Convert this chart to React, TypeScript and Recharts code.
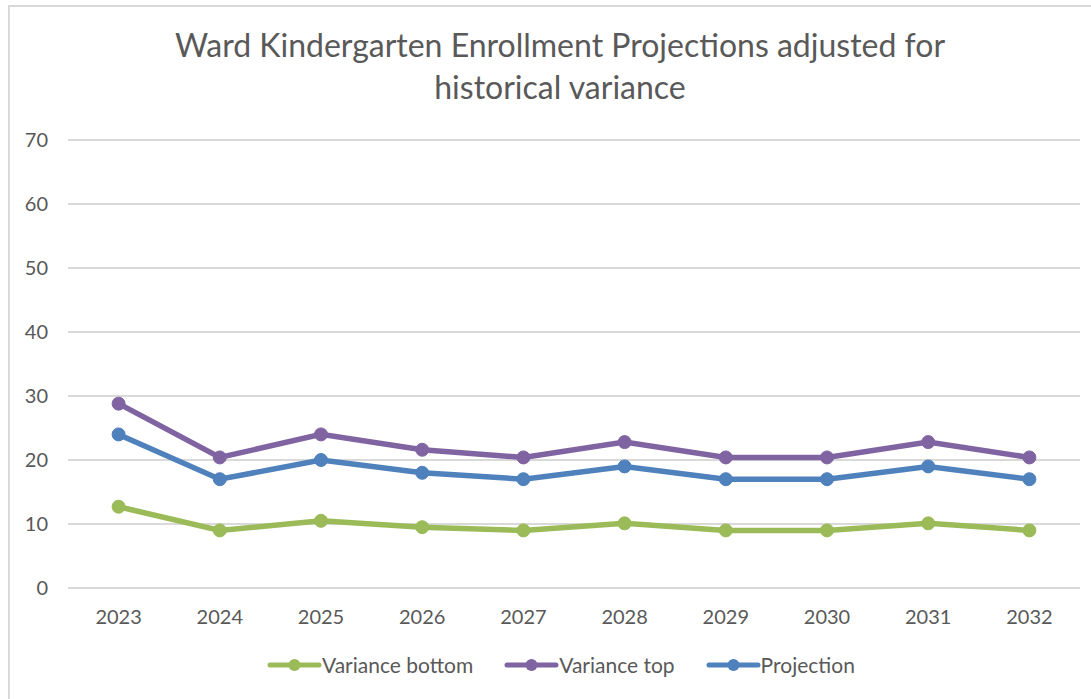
import React from "react";
import { LineChart, Line, XAxis, YAxis, CartesianGrid } from "recharts";

const years = ["2023", "2024", "2025", "2026", "2027", "2028", "2029", "2030", "2031", "2032"];
const varianceBottom = [12.7, 9.0, 10.5, 9.5, 9.0, 10.1, 9.0, 9.0, 10.1, 9.0];
const varianceTop = [28.8, 20.4, 24.0, 21.6, 20.4, 22.8, 20.4, 20.4, 22.8, 20.4];
const projection = [24, 17, 20, 18, 17, 19, 17, 17, 19, 17];
const yTicks = [0, 10, 20, 30, 40, 50, 60, 70];

const seriesList = [
  { key: "bottom", name: "Variance bottom", color: "#9bbb59" },
  { key: "top", name: "Variance top", color: "#8064a2" },
  { key: "projection", name: "Projection", color: "#4f81bd" },
];

const data = years.map((year, i) => ({
  year,
  bottom: varianceBottom[i],
  top: varianceTop[i],
  projection: projection[i],
}));

const FONT = "Lato, 'Open Sans', sans-serif";
const TEXT = "#595959";

function LegendMarker({ color }: { color: string }) {
  return (
    <svg width={55} height={14} style={{ display: "block" }}>
      <line x1={3} y1={7} x2={52} y2={7} stroke={color} strokeWidth={5} strokeLinecap="round" />
      <circle cx={27.5} cy={7} r={6} fill={color} />
    </svg>
  );
}

export default function App() {
  return (
    <div style={{ position: "absolute", left: 0, top: 0, width: 1091, height: 699, background: "#fff", fontFamily: FONT }}>
      <div style={{ position: "absolute", left: 8, top: 5, width: 1083, height: 2, background: "#d9d9d9" }} />
      <div style={{ position: "absolute", left: 8, top: 5, width: 2, height: 694, background: "#d9d9d9" }} />
      <div
        style={{
          position: "absolute",
          left: 29,
          top: 24,
          width: 1062,
          textAlign: "center",
          fontSize: 32,
          lineHeight: "42px",
          color: TEXT,
        }}
      >
        Ward Kindergarten Enrollment Projections adjusted for
        <br />
        historical variance
      </div>
      <div style={{ position: "absolute", left: 0, top: 0 }}>
        <LineChart width={1091} height={699} data={data} margin={{ top: 140, right: 11, left: 0, bottom: 81 }}>
          <CartesianGrid vertical={false} stroke="#d9d9d9" strokeWidth={2} />
          <XAxis
            dataKey="year"
            axisLine={false}
            tickLine={false}
            height={30}
            tickMargin={16}
            padding={{ left: 50.6, right: 50.6 }}
            tick={{ fill: TEXT, fontSize: 20, fontFamily: FONT }}
          />
          <YAxis
            domain={[0, 70]}
            ticks={yTicks}
            width={68}
            axisLine={false}
            tickLine={false}
            tickMargin={14}
            tick={{ fill: TEXT, fontSize: 20, fontFamily: FONT }}
          />
          {seriesList.map((s) => (
            <Line
              key={s.key}
              type="linear"
              dataKey={s.key}
              name={s.name}
              stroke={s.color}
              strokeWidth={5.5}
              dot={{ r: 6.5, fill: s.color, stroke: s.color, strokeWidth: 1 }}
              isAnimationActive={false}
            />
          ))}
        </LineChart>
      </div>
      <div
        style={{
          position: "absolute",
          left: 267,
          top: 653,
          display: "flex",
          alignItems: "center",
          gap: 31,
          fontSize: 21,
          lineHeight: "24px",
          color: TEXT,
        }}
      >
        {seriesList.map((s) => (
          <div key={s.key} style={{ display: "flex", alignItems: "center" }}>
            <LegendMarker color={s.color} />
            <span>{s.name}</span>
          </div>
        ))}
      </div>
    </div>
  );
}
